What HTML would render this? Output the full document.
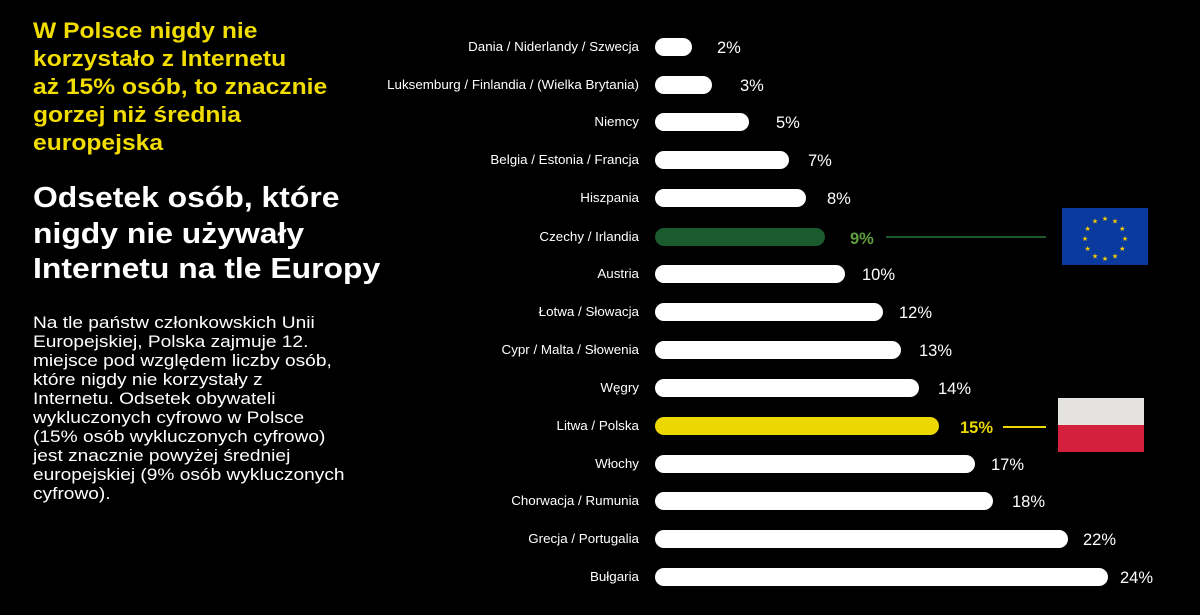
<!DOCTYPE html>
<html><head><meta charset="utf-8"><style>
html,body{margin:0;padding:0;background:#000;width:1200px;height:615px;overflow:hidden}
svg{display:block}
text{font-family:"Liberation Sans",sans-serif}
</style></head><body>
<svg width="1200" height="615" viewBox="0 0 1200 615">
<rect width="1200" height="615" fill="#000"/>
<g font-weight="bold" font-size="22" fill="#f2dd00" transform="translate(33,0) scale(1.12,1) translate(-33,0)">
<text x="33" y="38">W Polsce nigdy nie</text>
<text x="33" y="66">korzystało z Internetu</text>
<text x="33" y="94">aż 15% osób, to znacznie</text>
<text x="33" y="122">gorzej niż średnia</text>
<text x="33" y="150">europejska</text>
</g>
<g font-weight="bold" font-size="29" fill="#fff" transform="translate(33,0) scale(1.1,1) translate(-33,0)">
<text x="33" y="207">Odsetek osób, które</text>
<text x="33" y="243">nigdy nie używały</text>
<text x="33" y="278">Internetu na tle Europy</text>
</g>
<g font-size="16.5" fill="#fff" transform="translate(33,0) scale(1.16,1) translate(-33,0)">
<text x="33" y="328">Na tle państw członkowskich Unii</text>
<text x="33" y="347">Europejskiej, Polska zajmuje 12.</text>
<text x="33" y="366">miejsce pod względem liczby osób,</text>
<text x="33" y="385">które nigdy nie korzystały z</text>
<text x="33" y="404">Internetu. Odsetek obywateli</text>
<text x="33" y="423">wykluczonych cyfrowo w Polsce</text>
<text x="33" y="442">(15% osób wykluczonych cyfrowo)</text>
<text x="33" y="461">jest znacznie powyżej średniej</text>
<text x="33" y="480">europejskiej (9% osób wykluczonych</text>
<text x="33" y="499">cyfrowo).</text>
</g>
<g font-size="12.5" fill="#fff" text-anchor="end" transform="translate(639,0) scale(1.07,1) translate(-639,0)">
<text x="639" y="51">Dania / Niderlandy / Szwecja</text>
<text x="639" y="89">Luksemburg / Finlandia / (Wielka Brytania)</text>
<text x="639" y="126">Niemcy</text>
<text x="639" y="164">Belgia / Estonia / Francja</text>
<text x="639" y="202">Hiszpania</text>
<text x="639" y="241">Czechy / Irlandia</text>
<text x="639" y="278">Austria</text>
<text x="639" y="316">Łotwa / Słowacja</text>
<text x="639" y="354">Cypr / Malta / Słowenia</text>
<text x="639" y="392">Węgry</text>
<text x="639" y="430">Litwa / Polska</text>
<text x="639" y="468">Włochy</text>
<text x="639" y="505">Chorwacja / Rumunia</text>
<text x="639" y="543">Grecja / Portugalia</text>
<text x="639" y="581">Bułgaria</text>
</g>
<g fill="#fff">
<rect x="655" y="38" width="37" height="18" rx="9"/>
<rect x="655" y="76" width="57" height="18" rx="9"/>
<rect x="655" y="113" width="94" height="18" rx="9"/>
<rect x="655" y="151" width="134" height="18" rx="9"/>
<rect x="655" y="189" width="151" height="18" rx="9"/>
<rect x="655" y="228" width="170" height="18" rx="9" fill="#1b5a2c"/>
<rect x="655" y="265" width="190" height="18" rx="9"/>
<rect x="655" y="303" width="228" height="18" rx="9"/>
<rect x="655" y="341" width="246" height="18" rx="9"/>
<rect x="655" y="379" width="264" height="18" rx="9"/>
<rect x="655" y="417" width="284" height="18" rx="9" fill="#ecd800"/>
<rect x="655" y="455" width="320" height="18" rx="9"/>
<rect x="655" y="492" width="338" height="18" rx="9"/>
<rect x="655" y="530" width="413" height="18" rx="9"/>
<rect x="655" y="568" width="453" height="18" rx="9"/>
</g>
<g font-size="16.5" fill="#fff">
<text x="717" y="53">2%</text>
<text x="740" y="91">3%</text>
<text x="776" y="128">5%</text>
<text x="808" y="166">7%</text>
<text x="827" y="204">8%</text>
<text x="850" y="244" fill="#5f9e3c" font-weight="bold">9%</text>
<text x="862" y="280">10%</text>
<text x="899" y="318">12%</text>
<text x="919" y="356">13%</text>
<text x="938" y="394">14%</text>
<text x="960" y="433" fill="#ecd800" font-weight="bold">15%</text>
<text x="991" y="470">17%</text>
<text x="1012" y="507">18%</text>
<text x="1083" y="545">22%</text>
<text x="1120" y="583">24%</text>
</g>
<line x1="886" y1="237" x2="1046" y2="237" stroke="#1b5a2c" stroke-width="2"/>
<line x1="1003" y1="427" x2="1046" y2="427" stroke="#ecd800" stroke-width="2"/>
<rect x="1062" y="208" width="86" height="57" fill="#0b3a9e"/>
<g fill="#f5cc00" font-size="7" text-anchor="middle">
<text x="1105" y="221">★</text><text x="1115" y="223.7">★</text><text x="1122.3" y="231">★</text>
<text x="1125" y="241">★</text><text x="1122.3" y="251">★</text><text x="1115" y="258.3">★</text>
<text x="1105" y="261">★</text><text x="1095" y="258.3">★</text><text x="1087.7" y="251">★</text>
<text x="1085" y="241">★</text><text x="1087.7" y="231">★</text><text x="1095" y="223.7">★</text>
</g>
<rect x="1058" y="398" width="86" height="27" fill="#e5e3e0"/>
<rect x="1058" y="425" width="86" height="27" fill="#d4203c"/>
</svg>
</body></html>
